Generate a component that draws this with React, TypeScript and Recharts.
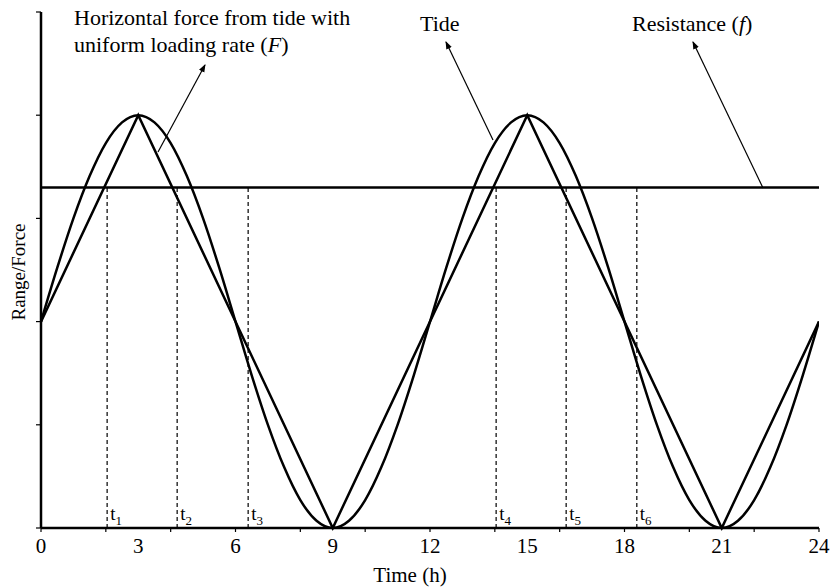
import { LineChart, Line, XAxis, YAxis, ReferenceLine, ReferenceDot } from 'recharts';

// tide range read at half-hour steps (0 -> 24 h)
const hours = [
  0, 0.5, 1, 1.5, 2, 2.5, 3, 3.5, 4, 4.5, 5, 5.5, 6, 6.5, 7, 7.5, 8, 8.5, 9, 9.5, 10, 10.5, 11, 11.5,
  12, 12.5, 13, 13.5, 14, 14.5, 15, 15.5, 16, 16.5, 17, 17.5, 18, 18.5, 19, 19.5, 20, 20.5, 21, 21.5,
  22, 22.5, 23, 23.5, 24,
];
const tideLevel = [
  2, 2.52, 3, 3.41, 3.73, 3.93, 4, 3.93, 3.73, 3.41, 3, 2.52, 2, 1.48, 1, 0.59, 0.27, 0.07, 0, 0.07,
  0.27, 0.59, 1, 1.48, 2, 2.52, 3, 3.41, 3.73, 3.93, 4, 3.93, 3.73, 3.41, 3, 2.52, 2, 1.48, 1, 0.59,
  0.27, 0.07, 0, 0.07, 0.27, 0.59, 1, 1.48, 2,
];

// horizontal force with uniform loading rate (F)
const forceHours = [0, 3, 9, 15, 21, 24];
const forceLevel = [2, 4, 0, 4, 0, 2];

const resistance = 3.3;
const markTimes = [2.04, 4.2, 6.39, 14.04, 16.2, 18.38];
const markNames = ['1', '2', '3', '4', '5', '6'];

const tickHours = [0, 2, 3, 4, 6, 8, 9, 10, 12, 14, 15, 16, 18, 20, 21, 22, 24];
const yTicks = [0, 1, 2, 3, 4, 5];

const FONT = 'Liberation Serif, DejaVu Serif, serif';

const tideData = hours.map((t, i) => ({ t, v: tideLevel[i] }));
const forceData = forceHours.map((t, i) => ({ t, v: forceLevel[i] }));

const TimeTick = (props: any) => {
  const { x, y, payload } = props;
  const h = payload.value;
  return (
    <g>
      {h % 2 === 0 && <line x1={x} x2={x} y1={y} y2={y + 4} stroke="#000" strokeWidth={1.2} />}
      {h % 3 === 0 && (
        <text x={x} y={y + 25} textAnchor="middle" fontSize={21} style={{ fontFamily: FONT }} fill="#000">
          {h}
        </text>
      )}
    </g>
  );
};

const RangeTick = (props: any) => {
  const { x, y } = props;
  return <line x1={x - 5} x2={x} y1={y} y2={y} stroke="#000" strokeWidth={1.2} />;
};

const MarkLabel = (name: string) => (p: any) => (
  <text x={p.cx + 3} y={p.cy - 8} fontSize={19} style={{ fontFamily: FONT }} fill="#000">
    t
    <tspan fontSize={13} dy={5}>
      {name}
    </tspan>
  </text>
);

export default function App() {
  return (
    <div style={{ position: 'absolute', left: 0, top: 0, width: 834, height: 587, background: '#fff', fontFamily: FONT }}>
      <LineChart
        width={834}
        height={587}
        margin={{ top: 12, right: 15, bottom: 58, left: 40 }}
        style={{ fontFamily: FONT }}
      >
        <XAxis
          type="number"
          dataKey="t"
          domain={[0, 24]}
          ticks={tickHours}
          interval={0}
          tick={<TimeTick />}
          tickLine={false}
          tickSize={0}
          tickMargin={0}
          height={1}
          axisLine={{ stroke: '#000', strokeWidth: 2.5 }}
          allowDataOverflow
        />
        <YAxis
          type="number"
          domain={[0, 5]}
          ticks={yTicks}
          interval={0}
          width={1}
          tick={<RangeTick />}
          tickLine={false}
          tickSize={0}
          tickMargin={0}
          axisLine={{ stroke: '#000', strokeWidth: 2.5 }}
        />
        <ReferenceLine y={resistance} stroke="#000" strokeWidth={2.5} />
        {markTimes.map((t) => (
          <ReferenceLine
            key={'d' + t}
            segment={[{ x: t, y: 0 }, { x: t, y: resistance }]}
            stroke="#000"
            strokeWidth={1.2}
            strokeDasharray="4 3"
          />
        ))}
        {markTimes.map((t, i) => (
          <ReferenceDot key={'m' + t} x={t} y={0} r={0} shape={MarkLabel(markNames[i])} />
        ))}
        <Line
          data={tideData}
          dataKey="v"
          type="monotone"
          stroke="#000"
          strokeWidth={2.5}
          dot={false}
          isAnimationActive={false}
        />
        <Line
          data={forceData}
          dataKey="v"
          type="linear"
          stroke="#000"
          strokeWidth={2.5}
          dot={false}
          isAnimationActive={false}
        />
      </LineChart>
      <svg
        width={834}
        height={587}
        style={{ position: 'absolute', left: 0, top: 0, pointerEvents: 'none', fontFamily: FONT }}
      >
        <defs>
          <marker id="ah" markerWidth="8" markerHeight="8" refX="7" refY="4" orient="auto" markerUnits="userSpaceOnUse">
            <path d="M0,1 L8,4 L0,7 Z" fill="#000" />
          </marker>
        </defs>
        <text x={74} y={25} fontSize={22} fill="#000">Horizontal force from tide with</text>
        <text x={74} y={52} fontSize={22} fill="#000">
          uniform loading rate (<tspan fontStyle="italic">F</tspan>)
        </text>
        <text x={420} y={31} fontSize={22} fill="#000">Tide</text>
        <text x={632} y={31} fontSize={22} fill="#000">
          Resistance (<tspan fontStyle="italic">f</tspan>)
        </text>
        <line x1={158} y1={152} x2={205} y2={65} stroke="#000" strokeWidth={1.2} markerEnd="url(#ah)" />
        <line x1={493} y1={140} x2={446} y2={42} stroke="#000" strokeWidth={1.2} markerEnd="url(#ah)" />
        <line x1={763} y1={188} x2={693} y2={42} stroke="#000" strokeWidth={1.2} markerEnd="url(#ah)" />
        <text
          x={0}
          y={0}
          transform="translate(25,272) rotate(-90)"
          textAnchor="middle"
          fontSize={19}
          fill="#000"
        >
          Range/Force
        </text>
        <text x={410} y={582} textAnchor="middle" fontSize={21} fill="#000">Time (h)</text>
      </svg>
    </div>
  );
}
